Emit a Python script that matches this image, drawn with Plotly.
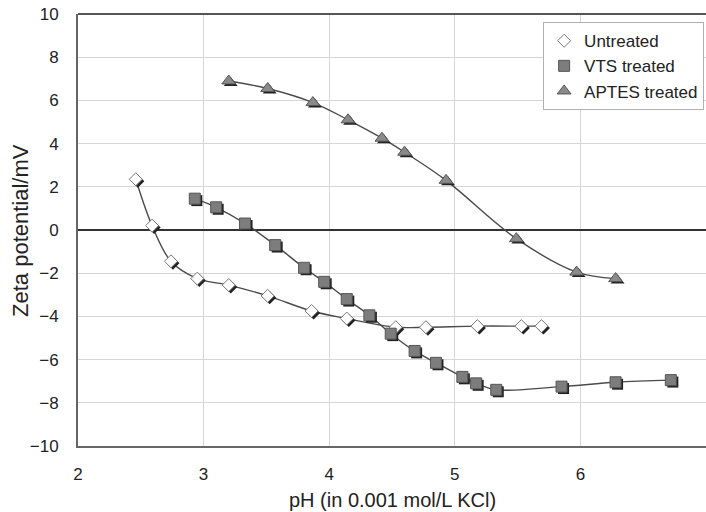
import plotly.graph_objects as go

untreated_ph = [2.46, 2.59, 2.74, 2.95, 3.2, 3.51, 3.86, 4.14, 4.53, 4.77, 5.18, 5.53, 5.69]
untreated_z = [2.35, 0.2, -1.45, -2.25, -2.55, -3.05, -3.75, -4.1, -4.5, -4.5, -4.45, -4.45, -4.45]

vts_ph = [2.93, 3.1, 3.33, 3.57, 3.8, 3.96, 4.14, 4.32, 4.49, 4.68, 4.85, 5.06, 5.17, 5.33, 5.85, 6.28, 6.72]
vts_z = [1.45, 1.05, 0.3, -0.7, -1.75, -2.4, -3.2, -3.95, -4.8, -5.6, -6.15, -6.8, -7.1, -7.4, -7.25, -7.05, -6.95]

aptes_ph = [3.2, 3.51, 3.87, 4.15, 4.42, 4.6, 4.93, 5.49, 5.97, 6.28]
aptes_z = [6.9, 6.55, 5.9, 5.1, 4.25, 3.6, 2.3, -0.4, -1.95, -2.25]

y_ticks = list(range(-10, 11, 2))
y_ticktext = [("\u2212" + str(-v)) if v < 0 else str(v) for v in y_ticks]

series = [
    ("Untreated", untreated_ph, untreated_z, "diamond", "#ffffff", "#777777", 10),
    ("VTS treated", vts_ph, vts_z, "square", "#7d7d7d", "#555555", 11),
    ("APTES treated", aptes_ph, aptes_z, "triangle-up", "#8a8a8a", "#555555", 12),
]

fig = go.Figure()
for name, x, y, sym, col, lc, sz in series:
    fig.add_trace(go.Scatter(x=x, y=y, mode="lines", showlegend=False, hoverinfo="skip",
                             line=dict(color="#4a4a4a", width=1.4, shape="spline", smoothing=1.0)))
# drop shadows (offset a couple of pixels down-right)
for name, x, y, sym, col, lc, sz in series:
    fig.add_trace(go.Scatter(x=[v + 0.016 for v in x], y=[v - 0.09 for v in y], mode="markers",
                             showlegend=False, hoverinfo="skip",
                             marker=dict(symbol=sym, size=sz, color="#222222", line=dict(width=0))))
for name, x, y, sym, col, lc, sz in series:
    fig.add_trace(go.Scatter(x=x, y=y, mode="markers", name=name,
                             marker=dict(symbol=sym, size=sz, color=col,
                                         line=dict(color=lc, width=1))))

fig.update_layout(
    width=706, height=512,
    margin=dict(l=78, r=0, t=14, b=66),
    paper_bgcolor="white", plot_bgcolor="white",
    font=dict(family="Liberation Sans, Arial, sans-serif", size=17, color="#222222"),
    xaxis=dict(range=[2, 7], dtick=1, showgrid=True, gridcolor="#d6d6d6", gridwidth=1,
               zeroline=False, showline=True, linecolor="#666666", linewidth=2,
               ticks="", tickfont=dict(size=17), automargin=False, ticklabelstandoff=12),
    yaxis=dict(range=[-10, 10], tickvals=y_ticks, ticktext=y_ticktext,
               showgrid=True, gridcolor="#d6d6d6", gridwidth=1,
               zeroline=True, zerolinecolor="#333333", zerolinewidth=1.5,
               showline=True, linecolor="#666666", linewidth=2, ticks="",
               tickfont=dict(size=17), automargin=False, ticklabelstandoff=14),
    legend=dict(x=0.997, y=0.981, xanchor="right", yanchor="top",
                bgcolor="white", bordercolor="#b0b0b0", borderwidth=1,
                font=dict(size=17), tracegroupgap=0),
    showlegend=True,
)
fig.add_shape(type="line", xref="paper", yref="paper", x0=0, x1=1, y0=1, y1=1,
              line=dict(color="#555555", width=2))
fig.add_annotation(text="pH (in 0.001 mol/L KCl)", xref="paper", yref="paper",
                   x=0.5, y=-0.125, xanchor="center", yanchor="middle",
                   showarrow=False, font=dict(size=20))
fig.add_annotation(text="Zeta potential/mV", xref="paper", yref="paper",
                   x=-0.0924, y=0.5, xanchor="center", yanchor="middle", textangle=-90,
                   showarrow=False, font=dict(size=22))
fig.write_html("out.html", config={"displayModeBar": False},
               post_script="document.body.style.margin='0';document.body.style.overflow='hidden';")
